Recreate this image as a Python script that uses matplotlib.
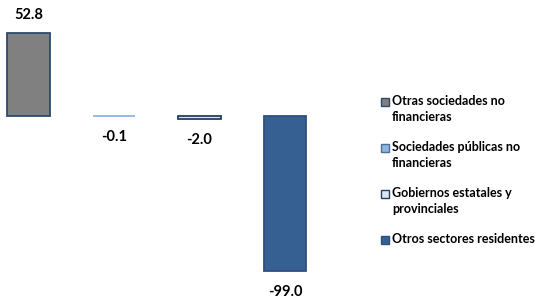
import matplotlib.pyplot as plt
from matplotlib.patches import Rectangle

# Data
sectors = ['Otras sociedades no\nfinancieras',
           'Sociedades públicas no\nfinancieras',
           'Gobiernos estatales y\nprovinciales',
           'Otros sectores residentes']
values = [52.8, -0.1, -2.0, -99.0]

face_colors = ['#808080', '#8DB4E2', '#DCE6F2', '#366092']
edge_colors = ['#2F4A6D', '#8DB4E2', '#243F60', '#2F5080']
legend_edges = ['#2F4A6D', '#4F6F95', '#243F60', '#2F5080']

plt.rcParams['font.family'] = ['Lato', 'DejaVu Sans']

W, H = 536, 299
fig = plt.figure(figsize=(W / 100, H / 100), dpi=100)
ax = fig.add_axes([0, 0, 1, 1])

x = list(range(len(values)))
bars = ax.bar(x, values, width=0.5, color=face_colors,
              edgecolor=edge_colors, linewidth=1.3)

for xi, v in zip(x, values):
    off = 11.5 if v >= 0 else -13.5
    ax.text(xi, v + off, f'{v:.1f}', ha='center', va='center',
            fontsize=10.5, fontweight='bold')

# axes scaled so the bars land where they do in the reference
ax.set_xlim(-0.333, 5.935)
ax.set_ylim(-116.8, 74.0)
ax.axis('off')

# legend drawn by hand so the key sits on the first line of each label
first_line_y = [102, 148, 194, 240]  # pixel rows from the top
for label, fc, ec, yp in zip(sectors, face_colors, legend_edges, first_line_y):
    fig.patches.append(Rectangle((381 / W, 1 - (yp + 4) / H), 8 / W, 8 / H,
                                 transform=fig.transFigure, facecolor=fc,
                                 edgecolor=ec, linewidth=1))
    fig.text(392 / W, 1 - (yp - 7) / H, label, ha='left', va='top',
             fontsize=9, fontweight='bold', linespacing=1.4)

plt.savefig('out.png', dpi=100)
